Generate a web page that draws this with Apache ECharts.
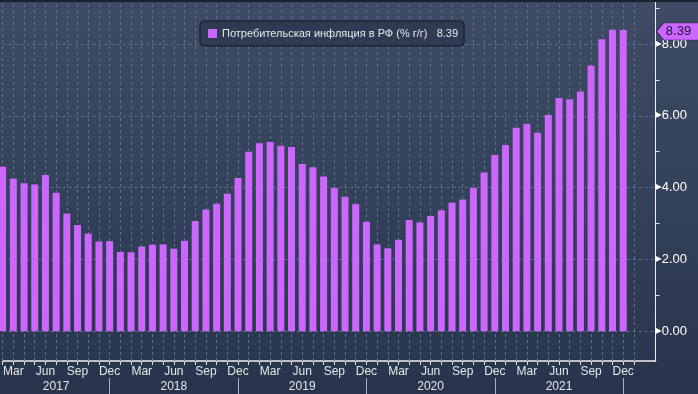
<!DOCTYPE html>
<html>
<head>
<meta charset="utf-8">
<script src="https://cdn.jsdelivr.net/npm/echarts@6.0.0/dist/echarts.min.js"></script>
<style>
  html, body { margin: 0; padding: 0; }
  #chart { width: 698px; height: 394px; background: linear-gradient(to bottom, #3f4b64 0%, #34415a 50%, #28344c 100%); }
</style>
</head>
<body>
<div id="chart"></div>
<script>
// ---- data ----
const categories = [
  'Feb 2017','Mar 2017','Apr 2017','May 2017','Jun 2017','Jul 2017','Aug 2017','Sep 2017','Oct 2017','Nov 2017','Dec 2017',
  'Jan 2018','Feb 2018','Mar 2018','Apr 2018','May 2018','Jun 2018','Jul 2018','Aug 2018','Sep 2018','Oct 2018','Nov 2018','Dec 2018',
  'Jan 2019','Feb 2019','Mar 2019','Apr 2019','May 2019','Jun 2019','Jul 2019','Aug 2019','Sep 2019','Oct 2019','Nov 2019','Dec 2019',
  'Jan 2020','Feb 2020','Mar 2020','Apr 2020','May 2020','Jun 2020','Jul 2020','Aug 2020','Sep 2020','Oct 2020','Nov 2020','Dec 2020',
  'Jan 2021','Feb 2021','Mar 2021','Apr 2021','May 2021','Jun 2021','Jul 2021','Aug 2021','Sep 2021','Oct 2021','Nov 2021','Dec 2021',
  'Jan 2022'
];
const inflation = [
  4.58, 4.25, 4.12, 4.09, 4.35, 3.86, 3.28, 2.96, 2.72, 2.50, 2.51,
  2.21, 2.20, 2.36, 2.41, 2.42, 2.30, 2.52, 3.07, 3.39, 3.55, 3.83, 4.27,
  5.00, 5.24, 5.27, 5.17, 5.13, 4.66, 4.57, 4.31, 3.99, 3.75, 3.54, 3.05,
  2.42, 2.31, 2.55, 3.10, 3.03, 3.21, 3.37, 3.58, 3.67, 3.99, 4.42, 4.91,
  5.19, 5.67, 5.78, 5.53, 6.02, 6.50, 6.46, 6.68, 7.40, 8.13, 8.40, 8.39
];
const seriesName = 'Потребительская инфляция в РФ (% г/г)';
const monthTickLabels = ['Mar', 'Jun', 'Sep', 'Dec'];
const yTicks = [0, 2, 4, 6, 8];
const yMinorTicks = [1, 3, 5, 7, 9];

// ---- derived ----
const X_MIN = 0, X_MAX = 61.02;
const Y_MIN = -0.827, Y_MAX = 9.17;
const idx = categories.map((c, i) => i);
const monthOf = i => categories[i].split(' ')[0];
const yearOf = i => categories[i].split(' ')[1];
const labelIdx = idx.filter(i => i < inflation.length && monthTickLabels.includes(monthOf(i)));
const decIdx = idx.filter(i => monthOf(i) === 'Dec');
const yearCenter = {};
decIdx.forEach((d, k) => {
  const start = k === 0 ? X_MIN : decIdx[k - 1];
  yearCenter[Math.round((start + d) / 2)] = yearOf(d);
});
const yearCenterIdx = Object.keys(yearCenter).map(Number);
const barData = inflation.map((v, i) => [i, v]);
const lastVal = inflation[inflation.length - 1];

const FONT = 'Liberation Sans';
const gridColor = '#5b7190';

const gridLines = idx.map(i => ({ xAxis: i })).concat(yTicks.map(v => ({ yAxis: v })));

const chart = echarts.init(document.getElementById('chart'), null, { renderer: 'canvas' });
chart.setOption({
  animation: false,
  backgroundColor: 'transparent',
  textStyle: { fontFamily: FONT },
  graphic: [{
    type: 'rect', left: 0, top: 0, z: 100,
    shape: { width: 698, height: 2 },
    style: { fill: '#1b2232' }
  }],
  legend: {
    left: 200, top: 21,
    padding: [7, 6, 7, 8],
    backgroundColor: '#2f3b53',
    borderColor: '#10151f', borderWidth: 1, borderRadius: 4,
    itemWidth: 9, itemHeight: 9, icon: 'rect',
    textStyle: { color: '#e6e6e6', fontSize: 11, fontFamily: FONT },
    formatter: name => name + '\u00a0\u00a0\u00a0' + lastVal.toFixed(2),
    data: [seriesName]
  },
  grid: { left: -1.26, right: 42.5, top: 2, bottom: 33, containLabel: false },
  xAxis: [{
    type: 'value', min: X_MIN, max: X_MAX, position: 'bottom',
    axisLine: { show: true, onZero: false, lineStyle: { color: '#f0f0f0', width: 1.5 } },
    axisTick: { show: true, customValues: idx, length: 4, lineStyle: { color: '#e0e0e0' } },
    axisLabel: {
      customValues: labelIdx, margin: 5,
      color: '#e6e6e6', fontSize: 12, fontFamily: FONT,
      formatter: v => monthOf(Math.round(v))
    },
    splitLine: { show: false }
  }, {
    type: 'value', min: X_MIN, max: X_MAX, position: 'bottom', offset: 17,
    axisLine: { show: false, onZero: false },
    axisTick: { show: true, customValues: decIdx, length: 16, lineStyle: { color: '#a9b1c0' } },
    axisLabel: {
      customValues: yearCenterIdx, margin: 3,
      color: '#e6e6e6', fontSize: 12, fontFamily: FONT,
      formatter: v => yearCenter[Math.round(v)] || ''
    },
    splitLine: { show: false }
  }],
  yAxis: [{
    type: 'value', min: Y_MIN, max: Y_MAX, position: 'right',
    axisLine: { show: true, onZero: false, lineStyle: { color: '#f0f0f0', width: 1 } },
    axisTick: { show: true, customValues: yMinorTicks, length: 4, lineStyle: { color: '#e0e0e0' } },
    axisLabel: {
      customValues: yTicks, margin: 0,
      formatter: v => '{t|▶}{v|' + v.toFixed(2) + '}',
      rich: {
        t: { color: '#ffffff', fontSize: 8, fontFamily: 'DejaVu Sans', padding: [0, 0, 1, 0] },
        v: { color: '#ffffff', fontSize: 13, fontFamily: FONT }
      }
    },
    splitLine: { show: false }
  }],
  series: [{
    type: 'scatter',
    xAxisIndex: 0, yAxisIndex: 0,
    z: 1,
    silent: true,
    data: [],
    markLine: {
      z: 1,
      silent: true,
      symbol: ['none', 'none'],
      label: { show: false },
      lineStyle: { color: gridColor, type: [3, 3], width: 1 },
      emphasis: { disabled: true },
      data: gridLines
    }
  }, {
    name: seriesName,
    type: 'bar',
    xAxisIndex: 0, yAxisIndex: 0,
    z: 3,
    barWidth: 7,
    clip: false,
    itemStyle: { color: '#cc66ff' },
    data: barData,
    markPoint: {
      silent: true,
      symbol: 'path://M0,8.5 L7,0 L44,0 L44,17 L7,17 Z',
      symbolSize: [44, 17],
      symbolKeepAspect: false,
      symbolOffset: [23, 1.5],
      itemStyle: { color: '#cc66ff', borderColor: '#4a2a63', borderWidth: 1 },
      label: {
        show: true, position: 'inside', offset: [0, 0],
        color: '#1c1438', fontSize: 13, fontFamily: FONT,
        formatter: p => p.value.toFixed(2)
      },
      data: [{ coord: [X_MAX, lastVal], value: lastVal }]
    }
  }]
});
</script>
</body>
</html>
